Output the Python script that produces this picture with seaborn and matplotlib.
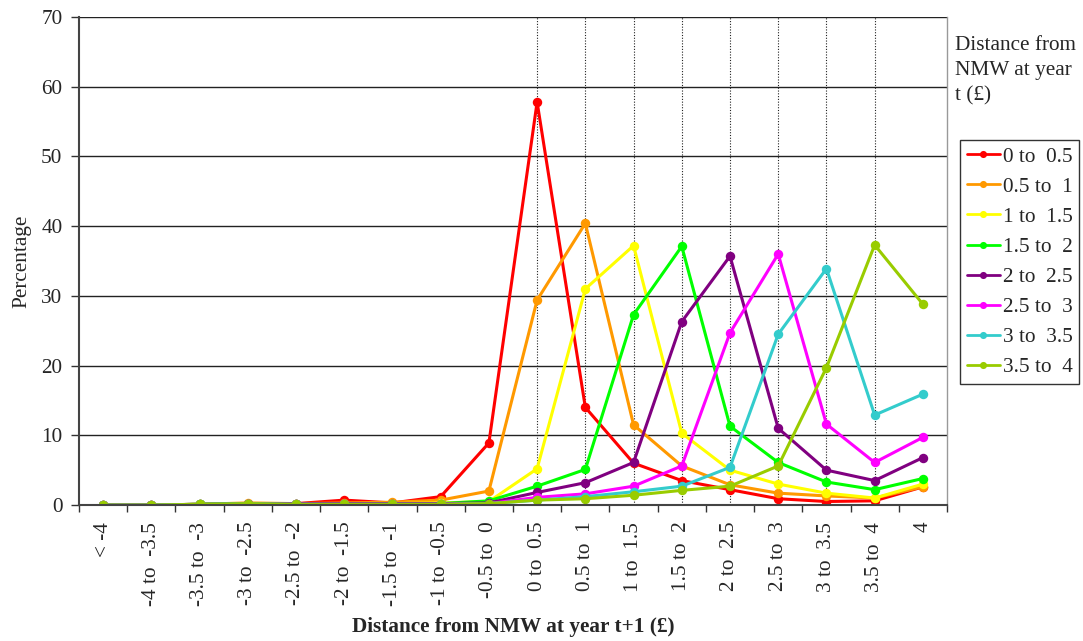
import numpy as np
import pandas as pd
import matplotlib
matplotlib.use("Agg")
import matplotlib.pyplot as plt
import seaborn as sns
from matplotlib.ticker import FixedLocator

categories = ["< -4", "-4 to  -3.5", "-3.5 to  -3", "-3 to  -2.5", "-2.5 to  -2",
              "-2 to  -1.5", "-1.5 to  -1", "-1 to  -0.5", "-0.5 to  0", "0 to  0.5",
              "0.5 to  1", "1 to  1.5", "1.5 to  2", "2 to  2.5", "2.5 to  3",
              "3 to  3.5", "3.5 to  4", "4"]

series_names = ["0 to  0.5", "0.5 to  1", "1 to  1.5", "1.5 to  2",
                "2 to  2.5", "2.5 to  3", "3 to  3.5", "3.5 to  4"]

s_0_05 = [0.0, 0.0, 0.1, 0.2, 0.2, 0.7, 0.3, 1.2, 8.9, 57.8, 14.0, 6.0, 3.5, 2.2, 0.9, 0.5, 0.6, 2.6]
s_05_1 = [0.0, 0.0, 0.1, 0.3, 0.2, 0.3, 0.4, 0.7, 2.0, 29.4, 40.4, 11.5, 5.6, 2.9, 1.7, 1.3, 1.0, 2.6]
s_1_15 = [0.0, 0.0, 0.1, 0.2, 0.1, 0.2, 0.2, 0.3, 0.5, 5.2, 31.0, 37.2, 10.3, 5.0, 3.0, 1.7, 1.0, 3.0]
s_15_2 = [0.0, 0.0, 0.1, 0.2, 0.1, 0.2, 0.2, 0.2, 0.6, 2.7, 5.1, 27.3, 37.1, 11.3, 6.1, 3.3, 2.2, 3.8]
s_2_25 = [0.0, 0.0, 0.1, 0.2, 0.2, 0.2, 0.2, 0.2, 0.3, 1.8, 3.2, 6.1, 26.3, 35.7, 11.0, 5.0, 3.5, 6.8]
s_25_3 = [0.0, 0.0, 0.0, 0.1, 0.1, 0.1, 0.1, 0.1, 0.2, 1.1, 1.6, 2.7, 5.6, 24.7, 36.0, 11.6, 6.1, 9.7]
s_3_35 = [0.0, 0.0, 0.1, 0.2, 0.1, 0.1, 0.1, 0.1, 0.2, 0.7, 1.2, 1.9, 2.7, 5.4, 24.5, 33.9, 12.9, 15.9]
s_35_4 = [0.0, 0.0, 0.1, 0.2, 0.1, 0.1, 0.1, 0.1, 0.2, 0.7, 0.9, 1.4, 2.1, 2.7, 5.6, 19.7, 37.3, 28.8]

series_values = [s_0_05, s_05_1, s_1_15, s_15_2, s_2_25, s_25_3, s_3_35, s_35_4]
colors = ["#FF0000", "#FF9900", "#FFFF00", "#00FF00", "#800080", "#FF00FF", "#33CCCC", "#99CC00"]
dropline_cats = categories[9:17]

rows = []
for name, vals in zip(series_names, series_values):
    for i, (c, v) in enumerate(zip(categories, vals)):
        rows.append({"series": name, "pos": i, "category": c, "value": v})
df = pd.DataFrame(rows)

sns.set_theme(style="white")
plt.rcParams["font.family"] = ["Liberation Serif", "DejaVu Serif"]
FS = 15.3

fig = plt.figure(figsize=(10.83, 6.41), dpi=100)
ax = fig.add_axes([79 / 1083, 1 - 505 / 641, 868 / 1083, 488 / 641])

# horizontal gridlines
for yv in range(10, 71, 10):
    ax.axhline(yv, color="#222222", lw=1.0, zorder=0)
# vertical dotted lines
for c in dropline_cats:
    ax.axvline(categories.index(c), color="#222222", lw=0.8, ls=(0, (1, 1.5)), zorder=0)

sns.lineplot(data=df, x="pos", y="value", hue="series", hue_order=series_names,
             palette=colors, marker="o", markersize=6.8, markeredgewidth=0,
             linewidth=2.2, ax=ax, legend=True, sort=False)

ax.set_xlim(-0.5, len(categories) - 0.5)
ax.set_ylim(0, 70)
ax.set_yticks(range(0, 71, 10))
ax.set_xticks(range(len(categories)))
ax.set_xticklabels(categories, rotation=90, fontsize=FS)
ax.xaxis.set_minor_locator(FixedLocator(np.arange(-0.5, len(categories), 1.0)))
ax.tick_params(axis="x", which="major", length=0, pad=12)
ax.tick_params(axis="x", which="minor", length=5, width=1, color="#333333", direction="out", bottom=True)
ax.tick_params(axis="y", which="major", length=6, width=1, color="#333333", direction="out", left=True,
               labelsize=FS, pad=6)

for s in ["left", "bottom"]:
    ax.spines[s].set_color("#444444")
    ax.spines[s].set_linewidth(1.5)
ax.spines["top"].set_visible(False)
ax.spines["right"].set_color("#999999")
ax.spines["right"].set_linewidth(1)

ax.set_xlabel("Distance from NMW at year t+1 (£)", fontsize=FS, fontweight="bold", labelpad=8)
ax.set_ylabel("Percentage", fontsize=FS, labelpad=7)

handles, labels = ax.get_legend_handles_labels()
leg = ax.legend(handles, labels, loc="upper left", bbox_to_anchor=(1.0155, 0.747),
                frameon=True, fancybox=False, fontsize=FS, handlelength=1.55,
                handletextpad=0.15, borderpad=0.3, labelspacing=0.48, markerscale=0.75,
                borderaxespad=0)
leg.get_frame().set_edgecolor("black")
leg.get_frame().set_linewidth(1.0)
for h in leg.get_lines():
    h.set_linewidth(2.0)

fig.text(955 / 1083, 1 - 36 / 641, "Distance from\nNMW at year\nt (£)", fontsize=FS,
         ha="left", va="top", linespacing=1.42)

fig.savefig("out.png", dpi=100, facecolor="white")
